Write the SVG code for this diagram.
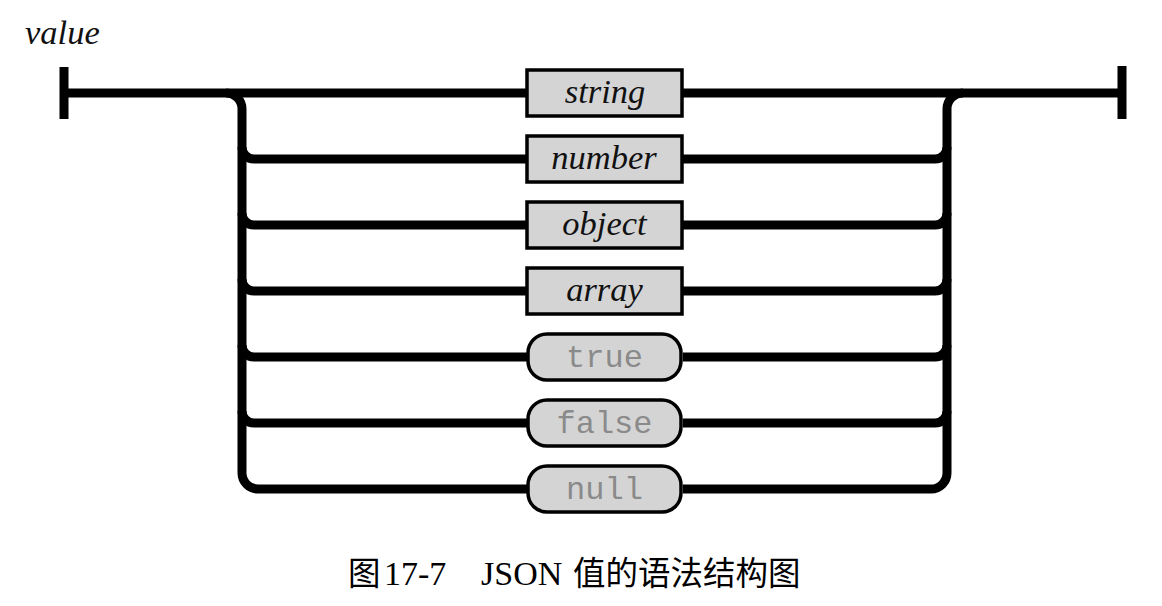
<svg xmlns="http://www.w3.org/2000/svg" width="1162" height="606" viewBox="0 0 1162 606">
<style>
.ln{fill:none;stroke:#000;stroke-width:9;stroke-linecap:butt}
.box{fill:#d4d4d4;stroke:#000;stroke-width:3.5}
.it{font-family:"Liberation Serif","Times New Roman",serif;font-style:italic;font-size:34.5px;fill:#111;text-anchor:middle}
.mono{font-family:"Liberation Mono","Courier New",monospace;font-size:32px;fill:#8a8a8a;text-anchor:middle}
.cap{font-family:"Liberation Serif","Noto Sans CJK SC",serif;font-size:34px;fill:#000}
.cjk{font-family:"Noto Sans CJK SC",sans-serif;font-size:32.5px;fill:#000}
</style>
<rect width="1162" height="606" fill="#fff"/>
<text x="25" y="44" class="it" style="text-anchor:start">value</text>
<g id="connectors">
<path class="ln" d="M64 67V119M1122 66V119M64 93H1122"/>
<path class="ln" d="M226 93A16 16 0 0 1 242 109V473A16 16 0 0 0 258 489H527"/>
<path class="ln" d="M963 93A16 16 0 0 0 947 109V473A16 16 0 0 1 931 489H683"/>
<path class="ln" d="M242 147A12 12 0 0 0 254 159H527M242 213A12 12 0 0 0 254 225H527M242 279A12 12 0 0 0 254 291H527M242 345A12 12 0 0 0 254 357H527M242 411A12 12 0 0 0 254 423H527"/>
<path class="ln" d="M683 159H935A12 12 0 0 0 947 147M683 225H935A12 12 0 0 0 947 213M683 291H935A12 12 0 0 0 947 279M683 357H935A12 12 0 0 0 947 345M683 423H935A12 12 0 0 0 947 411"/>
</g>
<g id="n-string"><rect class="box" x="527" y="70" width="155" height="46"/><text class="it" x="605" y="103">string</text></g>
<g id="n-number"><rect class="box" x="527" y="136" width="155" height="46"/><text class="it" x="604" y="169">number</text></g>
<g id="n-object"><rect class="box" x="527" y="202" width="155" height="46"/><text class="it" x="604.5" y="235">object</text></g>
<g id="n-array"><rect class="box" x="527" y="268" width="155" height="46"/><text class="it" x="604.5" y="301">array</text></g>
<g id="n-true"><rect class="box" x="528" y="334" width="153" height="46" rx="19"/><text class="mono" x="604.5" y="367">true</text></g>
<g id="n-false"><rect class="box" x="528" y="400" width="153" height="46" rx="19"/><text class="mono" x="604.5" y="433">false</text></g>
<g id="n-null"><rect class="box" x="528" y="466" width="153" height="46" rx="19"/><text class="mono" x="604.5" y="499">null</text></g>
<g id="caption">
<text y="585"><tspan class="cjk" x="348">图</tspan><tspan class="cap" x="384">17-7</tspan><tspan class="cap" x="481">JSON</tspan><tspan class="cjk" x="573">值的语法结构图</tspan></text>
</g>
</svg>
